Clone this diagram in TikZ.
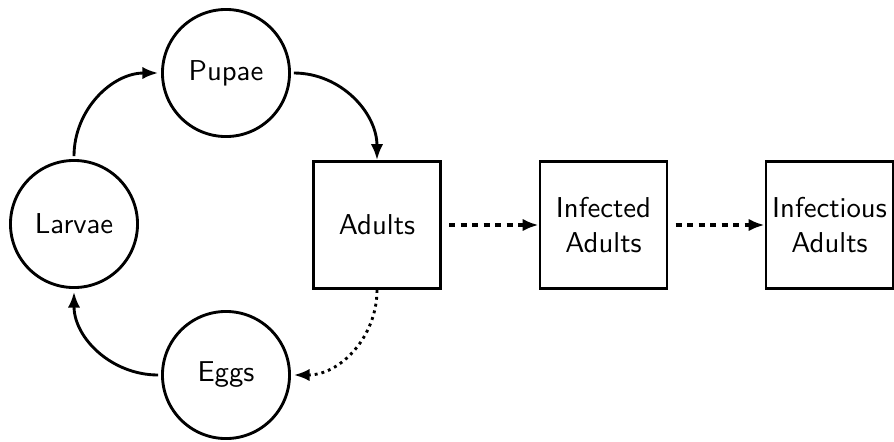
\documentclass[tikz,border=0pt]{standalone}
\usetikzlibrary{arrows.meta}
\begin{document}
\begin{tikzpicture}[x=0.01224cm,y=-0.01224cm,
  font=\sffamily,
  stage/.style={draw,circle,line width=1pt,minimum size=1.555cm,inner sep=0pt,outer sep=1.5pt},
  comp/.style={draw,rectangle,line width=1pt,minimum size=1.555cm,inner sep=0pt,outer sep=0.5pt,align=center},
  flow/.style={line width=1pt,-{Latex[length=5.5pt,width=4.3pt]}},
  dashflow/.style={flow,line width=1.1pt,dash pattern=on 2.1pt off 1.9pt,shorten <=2.5pt},
  dotflow/.style={flow,dash pattern=on 1pt off 1.4pt}]
\useasboundingbox (0,0) rectangle (894,441);
\node[stage] (pupae) at (226,73) {Pupae};
\node[stage] (larvae) at (74,224) {Larvae};
\node[stage] (eggs) at (226,375) {Eggs};
\node[comp] (adults) at (377,225) {Adults};
\node[comp] (infected) at (603.5,225) {Infected\\Adults};
\node[comp] (infectious) at (829.5,225) {Infectious\\Adults};
\draw[flow] (larvae.north) to[out=90,in=180] (pupae.west);
\draw[flow] (pupae.east) to[out=0,in=90] (adults.north);
\draw[dotflow] (adults.south) to[out=-90,in=0] (eggs.east);
\draw[flow] (eggs.west) to[out=180,in=-90] (larvae.south);
\draw[dashflow] (adults.east) -- (infected.west);
\draw[dashflow] (infected.east) -- (infectious.west);
\end{tikzpicture}
\end{document}
